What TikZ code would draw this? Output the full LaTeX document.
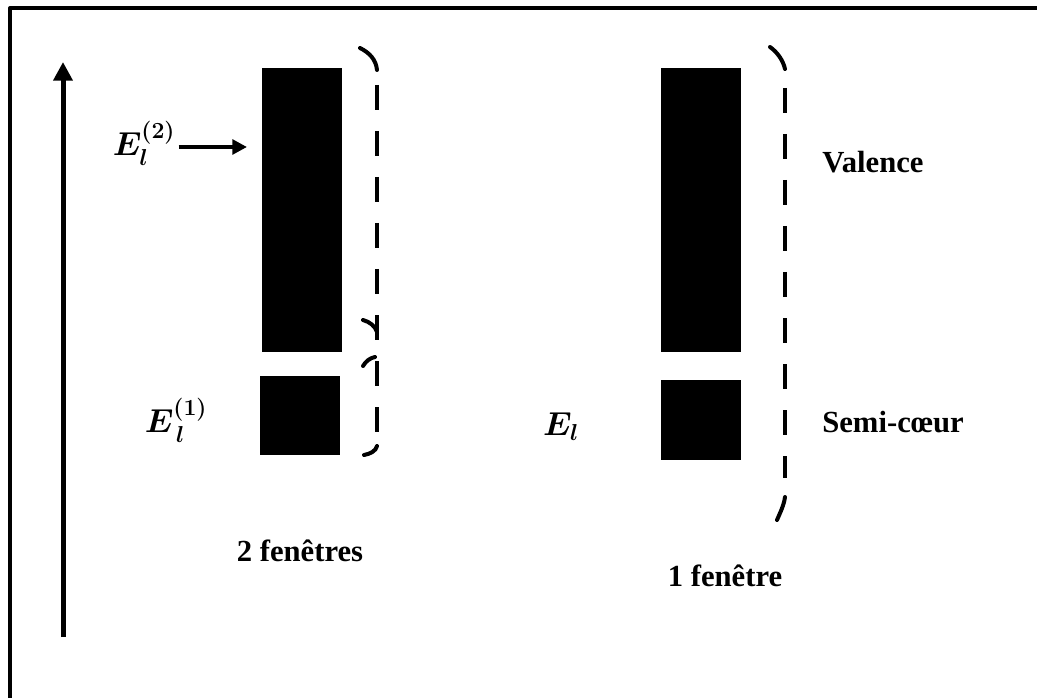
\documentclass[tikz,border=0pt]{standalone}
\usepackage{amsmath}
\usepackage{bm}
\usepackage{fontspec}
\setmainfont{Liberation Serif}
\usepackage{tikz}
\usetikzlibrary{arrows.meta}

\tikzset{
  bande/.style={fill=black,inner sep=0pt,minimum width=60pt},
  etiquette/.style={font=\fontsize{23}{27}\selectfont\bfseries},
  energie/.style={font=\fontsize{25}{29}\selectfont,inner sep=1pt},
  pointille/.style={line width=3pt,line cap=butt,dash pattern=on 18.75pt off 15.75pt},
  crochet/.style={line width=3pt,line cap=round},
  fleche/.style={line width=3pt,-{Triangle[length=11pt,width=11pt]}}
}

\begin{document}
\begin{tikzpicture}[x=0.75pt,y=-0.75pt,line width=3pt,line join=round]
\useasboundingbox (0,0) rectangle (1037,698);

\draw[line width=3pt] (1037,8) -- (10,8) -- (10,698);

%%%%%%%%%%%%%%%% axe %%%%%%%%%%%%%%%%%%%
\coordinate (axebas) at (63,637);
\coordinate (axehaut) at (63,62);
\draw[line width=3.75pt,-{Triangle[length=14pt,width=14pt]}] (axebas) -- (axehaut);

%%%%%%%%%%%%%%%% bandes %%%%%%%%%%%%%%%%
\node[bande,minimum height=213pt] (hautA) at (302,210) {};
\node[bande,minimum height=59.25pt] (basA) at (300,415.5) {};
\node[bande,minimum height=213pt] (hautB) at (701,210) {};
\node[bande,minimum height=60pt] (basB) at (701,420) {};

\node[energie] (e2) at (144,143) {$\bm{E_l^{(2)}}$};
\node[energie] (e1) at (176,420) {$\bm{E_{\,l}^{(1)}}$};
\node[energie] (e0) at (561,427) {$\bm{E_l}$};

\coordinate (pointe) at (247,147);
\draw[fleche] (e2.east |- pointe) -- (pointe);

\node[etiquette] (valence) at (873,162) {Valence};
\node[etiquette] (semicoeur) at (893,422) {Semi-cœur};
\node[etiquette] (deuxf) at (300,551) {2 fenêtres};
\node[etiquette] (unef) at (725,576) {1 fenêtre};

%%%%%%%%%%%%%%%% accolades %%%%%%%%%%%%%%%%
\draw[pointille] (377,85) -- (377,432);
\draw[crochet] (360,48) .. controls (370,53) and (376,60) .. (377,70);
\draw[crochet] (363,320) .. controls (370,322) and (375,326) .. (377,332);
\draw[crochet] (363,366) .. controls (366,361) and (370,358) .. (375,357);
\draw[crochet] (377,446) .. controls (376,451) and (370,454) .. (364,455);

\draw[pointille] (785,88) -- (785,478);
\draw[crochet] (770,47) .. controls (777,52) and (783,60) .. (785,69);
\draw[crochet] (785,497) .. controls (784,505) and (780,513) .. (777,520);

\end{tikzpicture}
\end{document}
